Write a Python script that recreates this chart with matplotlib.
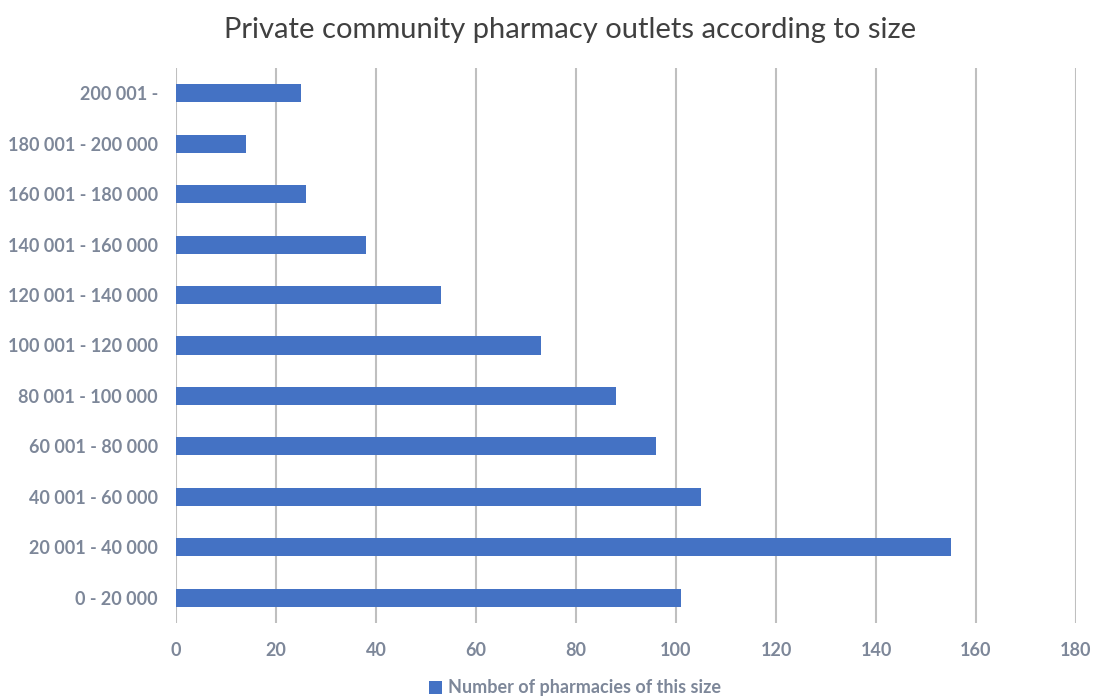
import matplotlib
matplotlib.use("Agg")
import matplotlib.pyplot as plt
from matplotlib.patches import Patch

categories = ["0 - 20 000", "20 001 - 40 000", "40 001 - 60 000", "60 001 - 80 000",
              "80 001 - 100 000", "100 001 - 120 000", "120 001 - 140 000",
              "140 001 - 160 000", "160 001 - 180 000", "180 001 - 200 000", "200 001 -"]
values = [101, 155, 105, 96, 88, 73, 53, 38, 26, 14, 25]
x_ticks = [0, 20, 40, 60, 80, 100, 120, 140, 160, 180]
series_name = "Number of pharmacies of this size"
title = "Private community pharmacy outlets according to size"

plt.rcParams['font.family'] = ['Lato', 'DejaVu Sans']

fig = plt.figure(figsize=(10.93, 6.98), dpi=100)
ax = fig.add_axes([176/1093, 1-623/698, 900/1093, 555/698])

bar_color = "#4472C4"
label_color = "#7D8799"
ypos = list(range(len(categories)))
ax.barh(ypos, values, height=0.36, color=bar_color, zorder=3)
ax.set_xlim(0, 180)
ax.set_ylim(-0.5, len(categories) - 0.5)
ax.set_xticks(x_ticks)
ax.set_yticks(ypos)
ax.set_yticklabels(categories)
ax.grid(axis='x', color='#BFBFBF', linewidth=1.5, zorder=0)
for s in ax.spines.values():
    s.set_visible(False)
ax.tick_params(axis='both', length=0, labelsize=13, labelcolor=label_color)
ax.tick_params(axis='y', pad=13)
ax.tick_params(axis='x', pad=14)
for lbl in ax.get_xticklabels() + ax.get_yticklabels():
    lbl.set_fontweight('bold')

fig.text(570/1093, 1-30/698, title, ha='center', va='center', fontsize=21, color='#404040')

handles = [Patch(facecolor=bar_color, label=series_name)]
fig.legend(handles=handles, loc='center', bbox_to_anchor=(575/1093, 1-688/698), frameon=False,
           prop={'size': 13, 'weight': 'bold'}, labelcolor=label_color,
           handlelength=0.7, handleheight=0.7, handletextpad=0.3)

fig.savefig("out.png", dpi=100)
